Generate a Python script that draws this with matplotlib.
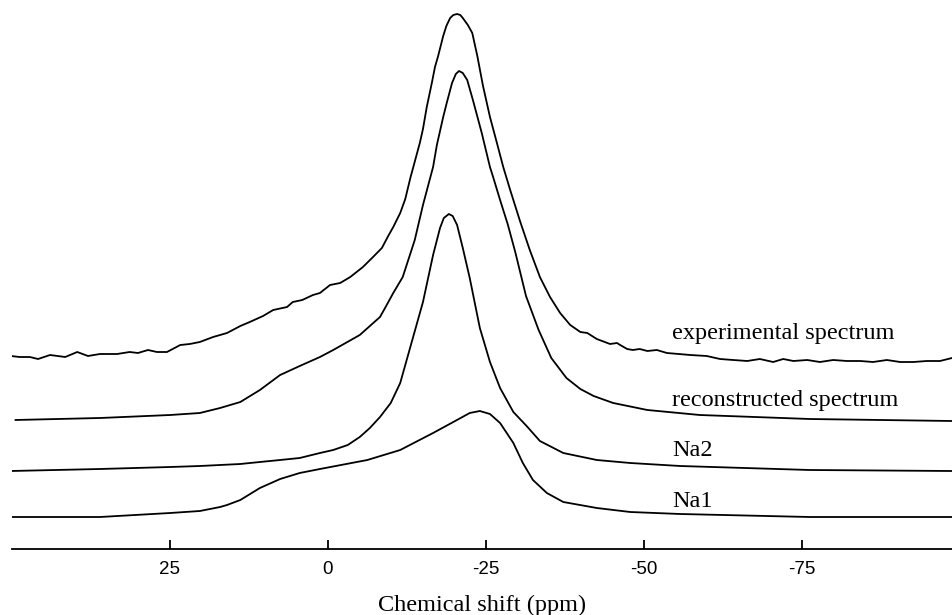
"23Na MAS NMR - experimental vs reconstructed spectrum"
import numpy as np
import matplotlib
matplotlib.use('Agg')
import matplotlib.pyplot as plt

# chemical shift (ppm) and intensity (arb. units)
exp_ppm = [50.1, 48.7, 47.1, 45.8, 43.9, 41.5, 39.6, 37.9, 36.0, 33.3, 31.3, 30.0,
           28.4, 27.0, 25.4, 23.3, 21.8, 20.2, 18.1, 15.9, 15.0, 13.8, 12.3, 10.2,
           8.6, 6.4, 5.5, 4.0, 2.3, 1.2, -0.4, -2.0, -3.6, -5.6, -7.2, -8.6, -9.6,
           -10.4, -11.5, -12.3, -13.1, -14.0, -14.6, -15.1, -15.7, -16.5, -17.0,
           -17.5, -18.3, -18.8, -19.4, -19.9, -20.5, -21.0, -21.4, -22.2, -22.9,
           -23.7, -24.6, -25.7, -26.8, -27.8, -28.9, -30.5, -32.0, -33.6, -35.2,
           -36.8, -38.4, -40.0, -41.1, -42.6, -44.7, -45.8, -46.3, -47.4, -48.3,
           -49.4, -50.6, -52.1, -53.7, -57.4, -60.0, -62.1, -64.2, -66.4, -68.4,
           -70.5, -72.1, -73.7, -75.9, -77.9, -80.0, -82.2, -84.3, -86.3, -88.5,
           -90.6, -92.7, -94.8, -96.9, -98.8]
exp_int = [0, -1, -1, -3, 1, -1, 4, 0, 2, 2, 4, 3,
           6, 4, 4, 11, 12, 14, 19, 23, 26, 30, 34, 40,
           46, 49, 54, 56, 61, 63, 71, 73, 79, 89, 99, 108, 120,
           129, 143, 157, 178, 199, 213, 227, 249, 273, 289,
           300, 320, 330, 338, 341, 342, 341, 338, 331, 323,
           300, 270, 239, 213, 189, 166, 134, 106, 79, 59,
           43, 31, 24, 23, 17, 12, 13, 11, 7, 6,
           7, 5, 6, 3, 1, 0, -3, -4, -5, -3,
           -6, -3, -5, -4, -6, -4, -5, -5, -6, -4,
           -6, -6, -5, -5, -2]

rec_ppm = [49.4, 36.0, 24.9, 20.2, 17.0, 13.8, 10.7, 7.5, 4.4, 1.2, -0.9, -5.1,
           -8.3, -9.1, -10.4, -11.9, -13.8, -15.1, -16.7, -17.3, -18.3, -18.9,
           -19.7, -20.3, -20.8, -21.4, -22.1, -23.0, -24.4, -25.7, -26.2, -27.3,
           -28.5, -29.7, -31.4, -33.4, -35.4, -37.8, -40.0, -42.1, -45.2, -50.6,
           -58.9, -76.3, -98.8]
rec_int = [0, 2, 5, 7, 12, 18, 30, 45, 54, 63, 70, 85,
           103, 112, 127, 143, 180, 215, 253, 275, 303, 318,
           337, 346, 349, 347, 340, 320, 287, 253, 243, 220,
           196, 168, 124, 90, 62, 42, 31, 24, 17, 10,
           5, 1, -1]

na2_ppm = [50.1, 36.0, 24.9, 20.2, 13.8, 10.7, 7.5, 4.4, 1.2, -0.9, -3.2, -5.1,
           -6.7, -8.3, -10.0, -11.5, -13.5, -15.1, -16.7, -17.8, -18.4, -19.2,
           -19.8, -20.5, -21.4, -22.5, -24.1, -25.7, -27.3, -29.4, -31.5, -33.6,
           -37.3, -42.6, -47.9, -55.8, -76.3, -98.8]
na2_int = [0, 2, 4, 5, 7, 9, 11, 13, 18, 21, 26, 34,
           43, 54, 68, 88, 133, 169, 216, 243, 253, 257,
           255, 246, 223, 193, 143, 109, 83, 59, 45, 30,
           18, 11, 8, 5, 1, 0]

na1_ppm = [50.1, 36.0, 24.9, 20.2, 17.0, 15.9, 13.8, 10.7, 7.5, 4.4, 1.2, -6.3,
           -11.5, -16.7, -19.9, -22.5, -24.1, -25.7, -27.3, -29.4, -30.9, -32.5,
           -34.7, -37.3, -42.6, -47.9, -55.8, -76.3, -98.8]
na1_int = [0, 0, 4, 6, 10, 12, 17, 29, 38, 44, 48, 57,
           67, 84, 95, 104, 106, 103, 94, 74, 54, 37,
           24, 15, 9, 5, 3, 0, 0]

names = ['experimental spectrum', 'reconstructed spectrum', 'Na2', 'Na1']

# stacking offsets and label heights
offsets = [193, 129, 78, 32]
label_y = [210, 143, 93, 42]

fig = plt.figure(figsize=(9.52, 6.15), dpi=100)
ax = fig.add_axes([11.5 / 952, 66 / 615, 1 - 11.5 / 952, 1 - 66 / 615])

spectra = [(exp_ppm, exp_int), (rec_ppm, rec_int), (na2_ppm, na2_int), (na1_ppm, na1_int)]
for (x, y), off in zip(spectra, offsets):
    ax.plot(x, np.array(y) + off, color='black', linewidth=1.3,
            solid_joinstyle='round', solid_capstyle='round')

for name, ly in zip(names, label_y):
    ax.text(-54.5, ly, name, family='Liberation Serif', fontsize=17.5,
            ha='left', va='baseline')

ax.set_xlim(50, -98.8)
ax.set_ylim(0, 549)
for s in ['top', 'left', 'right']:
    ax.spines[s].set_visible(False)
ax.spines['bottom'].set_linewidth(1.3)
ax.set_yticks([])
ax.set_xticks([25, 0, -25, -50, -75])
ax.set_xticklabels(['25', '0', '-25', '-50', '-75'], family='Liberation Sans', fontsize=13.5)
ax.tick_params(axis='x', direction='in', length=6.5, width=1.3, pad=8.5)
ax.set_xlabel('Chemical shift (ppm)', family='Liberation Serif', fontsize=17.5, labelpad=12)

fig.savefig('out.png', dpi=100)
